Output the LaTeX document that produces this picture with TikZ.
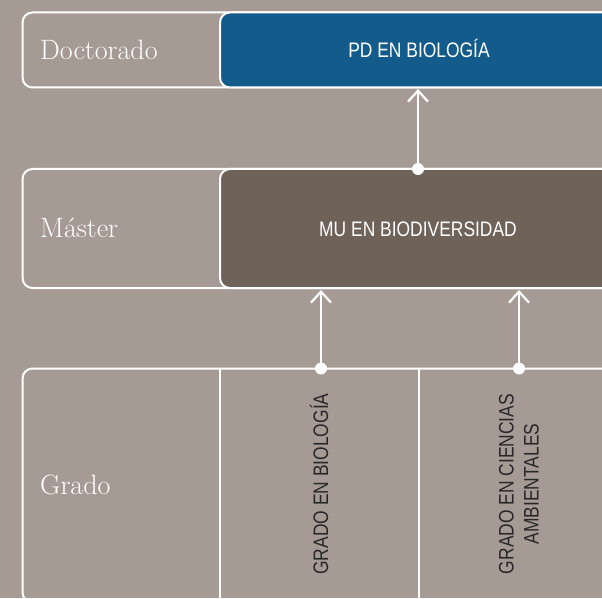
\documentclass[tikz,border=0pt]{standalone}
\usepackage{fontspec}
\newfontfamily\condfont{Liberation Sans}[FakeStretch=0.83]
\usetikzlibrary{arrows.meta}
\definecolor{bg}{RGB}{166,155,148}
\definecolor{docblue}{RGB}{19,91,138}
\definecolor{mubrown}{RGB}{110,98,89}
\definecolor{gradink}{RGB}{40,40,40}
\begin{document}
\begin{tikzpicture}[x=1pt,y=1pt,
  frame/.style={draw=white, line width=2pt, rounded corners=10pt},
  levellabel/.style={anchor=base west, inner sep=0pt, text=white, font=\fontsize{28}{32}\selectfont},
  progtext/.style={anchor=base, inner sep=0pt, text=white, font=\condfont\fontsize{21}{25}\selectfont},
  gradlabel/.style={inner sep=0pt, text=gradink, rotate=90, align=center, font=\condfont\fontsize{21}{25}\selectfont},
  link/.style={draw=white, line width=2.2pt, -{Straight Barb[length=11pt,width=20pt]}},
  dotmark/.style={fill=white}
]
\useasboundingbox (0,0) rectangle (602,598);
\clip (0,0) rectangle (602,598);
\fill[bg] (0,0) rectangle (602,598);

% Doctorado row
\draw[frame] (22.5,510.5) rectangle (650,585.5);
\draw[frame, fill=docblue] (220,510.5) rectangle (618,585.5);
% Master row
\draw[frame] (22.5,310) rectangle (650,429);
\draw[frame, fill=mubrown] (220,310) rectangle (618,429);
% Grado row
\draw[frame] (22.5,-4.5) rectangle (650,229.5);
\draw[draw=white, line width=2pt] (219.5,229.5) -- (219.5,-6);
\draw[draw=white, line width=2pt] (419,229.5) -- (419,-6);

% labels
\node[levellabel] (doc) at (40,538) {Doctorado};
\node[levellabel] (mas) at (40,360) {Máster};
\node[levellabel] (gra) at (40,104) {Grado};
\node[progtext] (pd) at (419,540) {PD EN BIOLOGÍA};
\node[progtext] (mu) at (418,361) {MU EN BIODIVERSIDAD};
\node[gradlabel] (gb) at (319,114) {GRADO EN BIOLOGÍA};
\node[gradlabel] (gca) at (519,114) {GRADO EN CIENCIAS\\AMBIENTALES};

% connectors
\coordinate (mudot) at (418,429);
\coordinate (pdin) at (418,509);
\coordinate (gbdot) at (321,229.5);
\coordinate (gcadot) at (519,229.5);
\coordinate (muin1) at (321,308);
\coordinate (muin2) at (519,308);
\draw[link] (mudot) -- (pdin);
\draw[link] (gbdot) -- (muin1);
\draw[link] (gcadot) -- (muin2);
\fill[dotmark] (mudot) circle (6pt);
\fill[dotmark] (gbdot) circle (6pt);
\fill[dotmark] (gcadot) circle (6pt);
\end{tikzpicture}
\end{document}
